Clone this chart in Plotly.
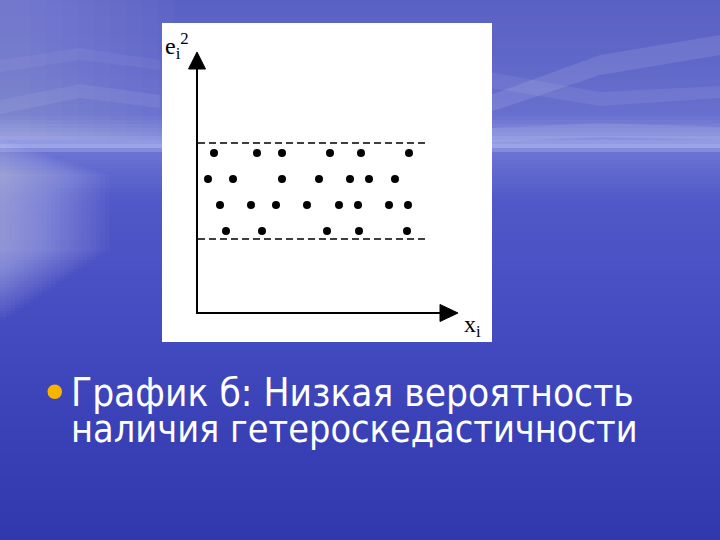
import plotly.graph_objects as go

# ---- data ----
row_y = [16.0, 13.4, 10.8, 8.2]
row1_x = [1.7, 6.0, 8.5, 13.3, 16.4, 21.2]
row2_x = [1.1, 3.6, 8.5, 12.2, 15.3, 17.2, 19.8]
row3_x = [2.3, 5.4, 7.9, 11.0, 14.2, 16.1, 19.2, 21.1]
row4_x = [2.9, 6.5, 13.0, 16.2, 21.0]
band_upper = 17.0
band_lower = 7.4
band_x = [0.1, 23.0]
axis_len = 26.1

title_line1 = "График б: Низкая вероятность"
title_line2 = "наличия гетероскедастичности"

W, H = 720, 540


def px(x):
    return x / W


def py(y):
    return 1 - y / H


def hex2rgb(h):
    h = h.lstrip('#')
    return tuple(int(h[i:i + 2], 16) for i in (0, 2, 4))


def lerp_color(stops, y):
    for (y0, c0), (y1, c1) in zip(stops, stops[1:]):
        if y0 <= y <= y1:
            t = (y - y0) / (y1 - y0) if y1 > y0 else 0
            a, b = hex2rgb(c0), hex2rgb(c1)
            return "rgb(%d,%d,%d)" % tuple(round(a[i] + (b[i] - a[i]) * t) for i in range(3))
    return stops[-1][1]


bg_stops = [
    (0, "#5a61c4"), (60, "#5f67c8"), (115, "#6870cf"), (136, "#848cdc"),
    (146, "#9ca4e8"), (154, "#6a72d2"), (200, "#5159c8"), (300, "#464ec2"),
    (420, "#3b42b8"), (540, "#3138ae"),
]

shapes = []
step = 4
for y0 in range(0, H, step):
    shapes.append(dict(type="rect", xref="paper", yref="paper", layer="below",
                       x0=0, x1=1, y0=py(y0 + step), y1=py(y0),
                       fillcolor=lerp_color(bg_stops, y0 + step / 2), line_width=0))

# left glow of the sun reflection (soft, built from thin overlapping strips)
for i in range(24):
    x1 = 6 + i * 4.5
    shapes.append(dict(type="rect", xref="paper", yref="paper", layer="below",
                       x0=0, x1=px(x1), y0=py(320 - i * 3), y1=py(140 + i * 1.5),
                       fillcolor="white", opacity=0.025, line_width=0))
# top-left brighter sky
for i in range(10):
    shapes.append(dict(type="rect", xref="paper", yref="paper", layer="below",
                       x0=0, x1=px(30 + i * 16), y0=py(140), y1=py(0),
                       fillcolor="white", opacity=0.018, line_width=0))

# faint sky streaks
streaks = [
    ("M 490 95 L 600 55 L 720 35 L 720 55 L 600 75 L 490 112 Z", 0.10),
    ("M 490 72 L 600 92 L 720 86 L 720 98 L 600 106 L 490 88 Z", 0.07),
    ("M 0 100 L 80 84 L 160 95 L 160 108 L 80 98 L 0 114 Z", 0.07),
    ("M 0 60 L 80 48 L 160 60 L 160 70 L 80 60 L 0 72 Z", 0.05),
    ("M 490 128 L 600 123 L 720 127 L 720 140 L 600 137 L 490 142 Z", 0.10),
]


def to_paper_path(p):
    out, toks, i = [], p.split(), 0
    while i < len(toks):
        t = toks[i]
        if t.isalpha():
            out.append(t)
            i += 1
        else:
            out.append("%.5f,%.5f" % (px(float(toks[i])), py(float(toks[i + 1]))))
            i += 2
    return " ".join(out)


for p, op in streaks:
    shapes.append(dict(type="path", xref="paper", yref="paper", layer="below",
                       path=to_paper_path(p), fillcolor="white", opacity=op, line_width=0))

# white chart panel
shapes.append(dict(type="rect", xref="paper", yref="paper", layer="below",
                   x0=px(162), x1=px(492), y0=py(342), y1=py(23),
                   fillcolor="white", line_width=0))

# bullet
shapes.append(dict(type="circle", xref="paper", yref="paper", layer="above",
                   x0=px(47.5), x1=px(62), y0=py(399), y1=py(384.5),
                   fillcolor="#f7b500", line_width=0))

fig = go.Figure()

dot_style = dict(mode="markers", marker=dict(size=8, color="black"),
                 showlegend=False, hoverinfo="skip", xaxis="x", yaxis="y")
for xs, yv in zip([row1_x, row2_x, row3_x, row4_x], row_y):
    fig.add_trace(go.Scatter(x=xs, y=[yv] * len(xs), **dot_style))

for yv in (band_upper, band_lower):
    fig.add_trace(go.Scatter(x=band_x, y=[yv, yv], mode="lines",
                             line=dict(color="black", width=1.5, dash="7px,4px"),
                             showlegend=False, hoverinfo="skip"))

# axes lines
fig.add_trace(go.Scatter(x=[0, 0, axis_len - 1.6], y=[axis_len - 1.6, 0, 0], mode="lines",
                         line=dict(color="black", width=2), showlegend=False, hoverinfo="skip"))
# arrow heads
fig.add_trace(go.Scatter(x=[-0.85, 0.85, 0, -0.85], y=[axis_len - 1.7, axis_len - 1.7, axis_len, axis_len - 1.7],
                         mode="lines", fill="toself", fillcolor="black",
                         line=dict(color="black", width=1), showlegend=False, hoverinfo="skip"))
fig.add_trace(go.Scatter(x=[axis_len - 1.8, axis_len - 1.8, axis_len, axis_len - 1.8], y=[0.85, -0.85, 0, 0.85],
                         mode="lines", fill="toself", fillcolor="black",
                         line=dict(color="black", width=1), showlegend=False, hoverinfo="skip"))

annotations = [
    dict(text="e<sub>i</sub><sup>2</sup>", xref="paper", yref="paper", x=px(163), y=py(46),
         xanchor="left", yanchor="middle", showarrow=False,
         font=dict(family="Liberation Serif", size=24, color="black")),
    dict(text="x<sub>i</sub>", xref="paper", yref="paper", x=px(462), y=py(326),
         xanchor="left", yanchor="middle", showarrow=False,
         font=dict(family="Liberation Serif", size=24, color="black")),
    dict(text=title_line1, xref="paper", yref="paper", x=px(69), y=py(392),
         xanchor="left", yanchor="middle", showarrow=False,
         font=dict(family="DejaVu Sans Condensed, DejaVu Sans", size=38.5, color="white")),
    dict(text=title_line2, xref="paper", yref="paper", x=px(69), y=py(429),
         xanchor="left", yanchor="middle", showarrow=False,
         font=dict(family="DejaVu Sans Condensed, DejaVu Sans", size=37.5, color="white")),
]

fig.update_layout(
    width=W, height=H, margin=dict(l=0, r=0, t=0, b=0),
    paper_bgcolor="#4048bc", plot_bgcolor="rgba(0,0,0,0)",
    xaxis=dict(domain=[px(162), px(492)], range=[-3.5, 29.5], visible=False, fixedrange=True),
    yaxis=dict(domain=[py(342), py(23)], range=[-2.9, 29.0], visible=False, fixedrange=True),
    shapes=shapes, annotations=annotations, showlegend=False,
)

fig.write_html("out.html", config={"displayModeBar": False},
               post_script="document.body.style.margin='0';document.body.style.background='#3138ae';")
